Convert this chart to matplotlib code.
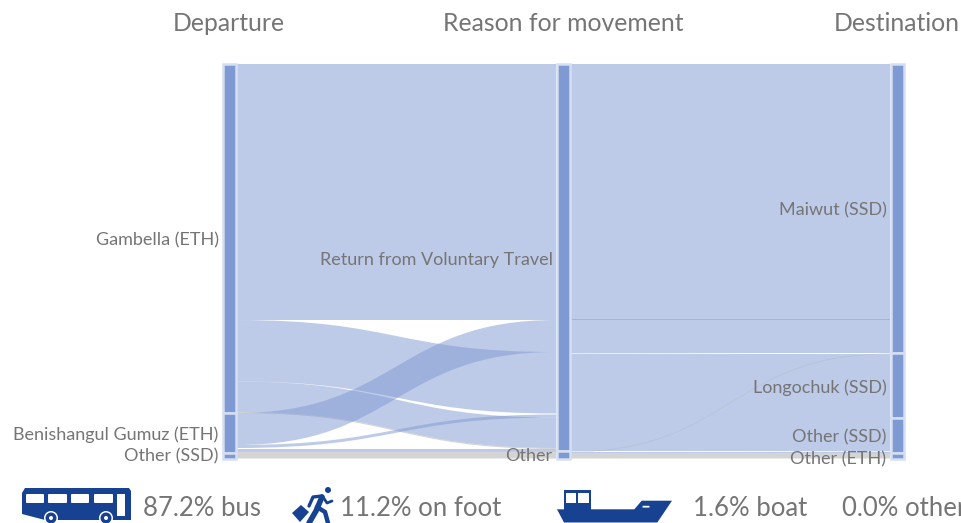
import matplotlib
matplotlib.use('Agg')
import matplotlib.pyplot as plt
from matplotlib.path import Path
from matplotlib.patches import PathPatch, Rectangle, Circle, FancyBboxPatch, Polygon

# node names and sizes per column
column_titles = ['Departure', 'Reason for movement', 'Destination']
left_nodes = ['Gambella (ETH)', 'Benishangul Gumuz (ETH)', 'Other (SSD)']
left_sizes = [349, 40, 5.5]
mid_nodes = ['Return from Voluntary Travel', 'Other']
mid_sizes = [387, 7.5]
right_nodes = ['Maiwut (SSD)', 'Longochuk (SSD)', 'Other (SSD)', 'Other (ETH)']
right_sizes = [289, 65, 35, 5.5]

# links departure -> reason, in stacking order at the departure side
left_values = [256, 61.5, 30.5, 1, 32, 3, 1, 3.2, 0.8, 5.5]
left_kinds = ['blue', 'blue', 'blue', 'gray', 'blue', 'blue', 'none', 'blue', 'gray', 'gray']
left_target_order = [0, 4, 1, 6, 5, 2, 3, 7, 8, 9]

# links reason -> destination, in stacking order at the reason side
right_values = [255, 0.9, 33.1, 0.6, 97.4, 0.5, 0.5, 1, 5.5]
right_kinds = ['blue', 'dark', 'blue', 'white', 'blue', 'white', 'gray', 'blue', 'gray']
right_target_order = [0, 1, 2, 3, 6, 4, 5, 7, 8]

transport_labels = ['87.2% bus', '11.2% on foot', '1.6% boat', '0.0% other']

top = 64
left_col = (222, 236.5)
mid_col = (556, 570.5)
right_col = (890, 904.5)

link_styles = {
    'blue': ('#7f99d2', 0.5),
    'gray': ('#aaaaaa', 0.5),
    'dark': ('#9aaddb', 1),
    'white': ('white', 0.8),
}
dark_blue = '#174291'
text_col = '#757575'

plt.rcParams['font.family'] = ['Lato', 'DejaVu Sans']

fig = plt.figure(figsize=(9.61, 5.23), dpi=100)
ax = fig.add_axes([0, 0, 1, 1])
ax.set_xlim(0, 961)
ax.set_ylim(523, 0)
ax.axis('off')


def stack(values, order=None):
    order = order if order is not None else range(len(values))
    pos = {}
    y = top
    for i in order:
        pos[i] = y
        y += values[i]
    return pos


def draw_links(x0, x1, values, kinds, target_order):
    y0 = stack(values)
    y1 = stack(values, target_order)
    xm = (x0 + x1) / 2
    for i, v in enumerate(values):
        if kinds[i] == 'none':
            continue
        a, b = y0[i], y1[i]
        verts = [(x0, a), (xm, a), (xm, b), (x1, b),
                 (x1, b + v), (xm, b + v), (xm, a + v), (x0, a + v), (x0, a)]
        codes = [Path.MOVETO, Path.CURVE4, Path.CURVE4, Path.CURVE4,
                 Path.LINETO, Path.CURVE4, Path.CURVE4, Path.CURVE4, Path.CLOSEPOLY]
        col, alpha = link_styles[kinds[i]]
        ax.add_patch(PathPatch(Path(verts, codes), facecolor=col, alpha=alpha, lw=0, zorder=2))


draw_links(left_col[1], mid_col[0], left_values, left_kinds, left_target_order)
draw_links(mid_col[1], right_col[0], right_values, right_kinds, right_target_order)


def draw_nodes(col, names, sizes, shifts):
    y = top
    for name, size, shift in zip(names, sizes, shifts):
        ax.add_patch(Rectangle((col[0] + 1, y), col[1] - col[0] - 2, size, facecolor='#7f99d2',
                               edgecolor='#d5dff3', lw=1.8, zorder=3))
        ax.text(col[0] - 3.5, y + size / 2 + shift, name, ha='right', va='center',
                fontsize=13, color=text_col, zorder=5)
        y += size


draw_nodes(left_col, left_nodes, left_sizes, [2, 2, 1])
draw_nodes(mid_col, mid_nodes, mid_sizes, [2, 1])
draw_nodes(right_col, right_nodes, right_sizes, [2, 2, 2, 4])

for col, title in zip([left_col, mid_col, right_col], column_titles):
    ax.text(sum(col) / 2, 23.5, title, ha='center', va='center', fontsize=17.8,
            color=text_col, clip_on=False)

# bottom row
for x, label in zip([143, 340, 693, 842], transport_labels):
    ax.text(x, 509, label, ha='left', va='center', fontsize=18.5, color=text_col)

# bus icon
bus = [(22, 493), (25, 488), (129, 488), (131, 491), (131, 520), (45, 520), (22, 514)]
ax.add_patch(Polygon(bus, closed=True, facecolor=dark_blue, lw=0))
for wx, ww in zip([26, 48, 71, 94], [18, 19, 18, 19]):
    ax.add_patch(FancyBboxPatch((wx + 1, 495), ww - 2, 7, boxstyle='round,pad=1', facecolor='white', lw=0))
ax.add_patch(Rectangle((117, 494), 8, 22, facecolor='white', lw=0))
for cx in [51, 106]:
    ax.add_patch(Circle((cx, 518), 7, facecolor='white', lw=0))
    ax.add_patch(Circle((cx, 518), 5.5, facecolor=dark_blue, lw=0))
    ax.add_patch(Circle((cx, 518), 2, facecolor='white', lw=0))

# walker icon
ax.add_patch(Circle((328, 490), 3, facecolor=dark_blue, lw=0))
ax.add_patch(Polygon([(292, 513), (301, 505), (309, 512), (300, 522)], closed=True, facecolor=dark_blue, lw=0))
for xs, ys, lw in [([322, 316, 309], [497, 511, 523], 4),
                   ([317, 325, 328], [507, 512, 523], 3.2),
                   ([322, 313, 309], [496, 497, 506], 2.4),
                   ([323, 327, 332], [497, 503, 501], 2)]:
    ax.plot(xs, ys, color=dark_blue, lw=lw, solid_capstyle='round', solid_joinstyle='round')

# boat icon
hull = [(557, 509.3), (634.3, 509.3), (641.7, 500.7), (672, 500.7), (657.3, 522.5), (564, 522.5)]
ax.add_patch(Polygon(hull, closed=True, facecolor=dark_blue, lw=0))
ax.add_patch(Rectangle((564.3, 490), 26.4, 20, facecolor=dark_blue, lw=0))
ax.add_patch(Rectangle((566, 492.7), 10, 10.6, facecolor='white', lw=0))
ax.add_patch(Rectangle((578.3, 492.7), 10.7, 10.6, facecolor='white', lw=0))
ax.add_patch(FancyBboxPatch((643, 506.3), 6, 0.8, boxstyle='round,pad=0.5', facecolor='white', lw=0))

fig.savefig('out.png', dpi=100)
